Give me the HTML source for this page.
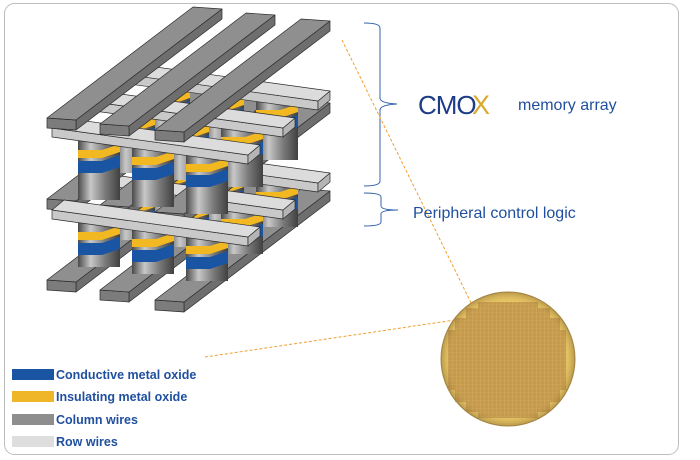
<!DOCTYPE html>
<html><head><meta charset="utf-8"><style>
html,body{margin:0;padding:0;background:#fff;width:700px;height:460px;overflow:hidden}
svg{display:block}
text{font-family:"Liberation Sans",Arial,sans-serif}
</style></head><body>
<svg width="700" height="460" viewBox="0 0 700 460" xmlns="http://www.w3.org/2000/svg">
<defs>
<linearGradient id="pg" x1="0" x2="1" y1="0" y2="0">
<stop offset="0" stop-color="#4a4a4a"/><stop offset="0.3" stop-color="#c8c8c8"/><stop offset="0.65" stop-color="#7a7a7a"/><stop offset="1" stop-color="#404040"/>
</linearGradient>
<pattern id="grid" width="4" height="4" patternUnits="userSpaceOnUse"><rect width="4" height="4" fill="#c69a4c"/><path d="M0 0H4M0 0V4" stroke="#d9b46a" stroke-width="0.6"/></pattern>
<radialGradient id="wg" cx="0.5" cy="0.5" r="0.5"><stop offset="0.85" stop-color="#c8a050" stop-opacity="0"/><stop offset="1" stop-color="#8a6a30" stop-opacity="0.5"/></radialGradient>
<g id="pu">
<rect x="0" y="0" width="42" height="62" fill="url(#pg)"/>
<polygon points="0,12 24,12 42,6 42,14 24,20 0,20" fill="#f2b822"/>
<polygon points="0,23 24,23 42,17 42,29 24,35 0,35" fill="#1a55a3"/>
</g>
<g id="pl">
<rect x="0" y="0" width="42" height="45" fill="url(#pg)"/>
<polygon points="0,10 24,10 42,4 42,12 24,18 0,18" fill="#f2b822"/>
<polygon points="0,21 24,21 42,15 42,27 24,33 0,33" fill="#1a55a3"/>
</g>
<g id="bar" stroke="#2c2c2c" stroke-width="0.7" stroke-linejoin="round">
<polygon points="29,2 175,-109 175,-99 29,12" fill="#6e6e6e"/>
<polygon points="0,0 29,2 29,12 0,10" fill="#7c7c7c"/>
<polygon points="0,0 29,2 175,-109 146,-111" fill="#8f8f8f"/>
</g>
<g id="row" stroke="#2c2c2c" stroke-width="0.7" stroke-linejoin="round">
<polygon points="0,0 196,27 196,36 0,9" fill="#c9c9c9"/>
<polygon points="196,27 208,17 208,26 196,36" fill="#b5b5b5"/>
<polygon points="0,0 196,27 208,17 12,-10" fill="#dcdcdc"/>
</g>
</defs>
<rect x="4.5" y="3.5" width="674" height="451" rx="10" fill="#fff" stroke="#bdbdbd"/>

<!-- bottom column bars -->
<use href="#bar" x="155" y="300"/>
<use href="#bar" x="100" y="290"/>
<use href="#bar" x="47" y="280"/>
<!-- lower layer -->
<use href="#pl" x="148" y="168"/><use href="#pl" x="202" y="175"/><use href="#pl" x="256" y="182"/>
<use href="#row" x="122" y="156"/>
<use href="#pl" x="113" y="195"/><use href="#pl" x="167" y="202"/><use href="#pl" x="221" y="209"/>
<use href="#row" x="87" y="183"/>
<use href="#pl" x="78" y="222"/><use href="#pl" x="132" y="229"/><use href="#pl" x="186" y="236"/>
<!-- middle column bars -->
<use href="#bar" x="155" y="212"/>
<use href="#bar" x="100" y="205"/>
<use href="#bar" x="47" y="199"/>
<use href="#row" x="52" y="210"/>
<!-- upper layer -->
<use href="#pu" x="148" y="84"/><use href="#pu" x="202" y="91"/><use href="#pu" x="256" y="98"/>
<use href="#row" x="122" y="74"/>
<use href="#pu" x="113" y="111"/><use href="#pu" x="167" y="118"/><use href="#pu" x="221" y="125"/>
<use href="#row" x="87" y="101"/>
<use href="#pu" x="78" y="138"/><use href="#pu" x="132" y="145"/><use href="#pu" x="186" y="152"/>
<use href="#row" x="52" y="128"/>
<!-- top column bars -->
<use href="#bar" x="155" y="130"/>
<use href="#bar" x="100" y="124"/>
<use href="#bar" x="47" y="118"/>

<!-- braces -->
<g fill="none" stroke="#3563ad" stroke-width="1">
<path d="M364,23 Q380,23 380,28 V98 Q380,103 397,104 Q380,105 380,110 V181 Q380,186 364,186"/>
<path d="M364,193 Q381,193 381,197 V206 Q381,210 398,210 Q381,210 381,214 V222 Q381,226 364,226"/>
</g>
<!-- dashed lines -->
<g stroke="#f0a030" stroke-width="1" stroke-dasharray="3,2" fill="none">
<line x1="342" y1="40" x2="477" y2="315"/>
<line x1="205" y1="357" x2="455" y2="320"/>
</g>
<!-- text -->
<text x="418" y="114" font-size="26" fill="#1d3c86" letter-spacing="-1">CMO</text>
<text x="472" y="114" font-size="27" fill="#d9a92c">X</text>
<text x="518" y="110" font-size="16" fill="#1f4f9e">memory array</text>
<text x="413" y="218" font-size="16" fill="#1f4f9e">Peripheral control logic</text>

<!-- wafer -->
<circle cx="508" cy="359" r="67" fill="#e8c766" stroke="#a88a48" stroke-width="1"/>
<path d="M455,318 H466 V308 H478 V302 H538 V308 H550 V318 H560 V330 H566 V390 H560 V402 H550 V412 H538 V418 H478 V412 H466 V402 H455 V390 H448 V330 H455Z" fill="url(#grid)"/>
<circle cx="508" cy="359" r="67" fill="url(#wg)"/>

<!-- legend -->
<rect x="12" y="369" width="42" height="11" fill="#1a55a3"/>
<rect x="12" y="391" width="42" height="11" fill="#f0b62a"/>
<rect x="12" y="414" width="42" height="11" fill="#8e8e8e"/>
<rect x="12" y="436" width="42" height="11" fill="#dedede"/>
<g font-size="12.5" font-weight="bold" fill="#1f4f9e">
<text x="56" y="379">Conductive metal oxide</text>
<text x="56" y="401">Insulating metal oxide</text>
<text x="56" y="424">Column wires</text>
<text x="56" y="446">Row wires</text>
</g>
</svg>
</body></html>
